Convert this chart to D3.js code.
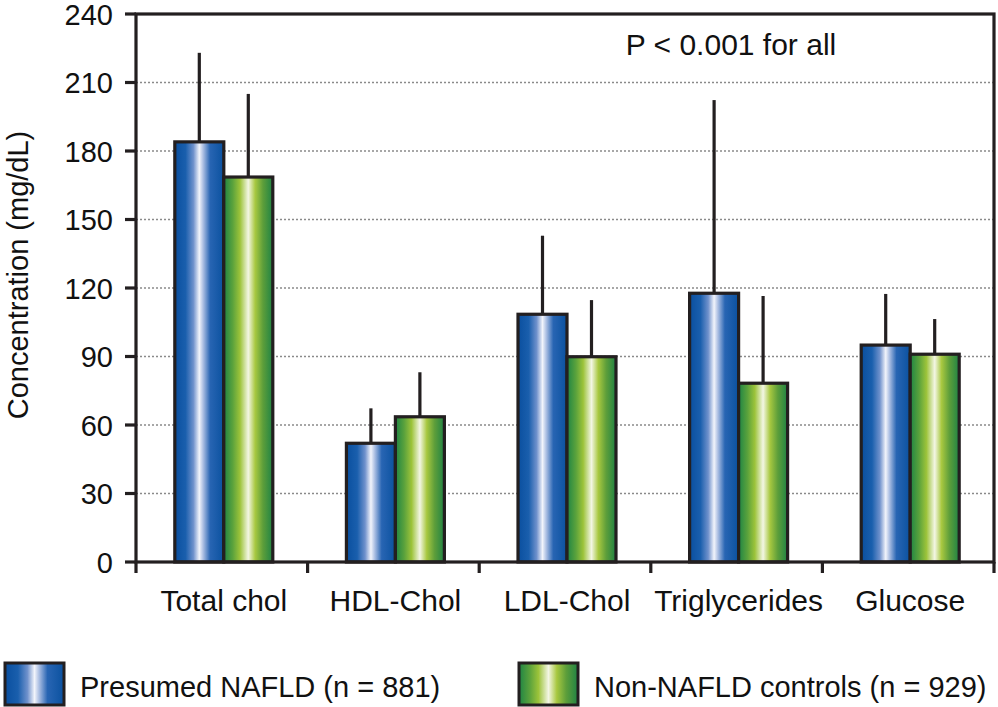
<!DOCTYPE html>
<html>
<head>
<meta charset="utf-8">
<script src="https://cdn.jsdelivr.net/npm/d3@7"></script>
<style>
  body { margin: 0; background: #fff; }
  text { font-family: "Liberation Sans", Arial, sans-serif; fill: #111; }
</style>
</head>
<body>
<svg id="chart" width="998" height="707"></svg>
<script>
var categories = ["Total chol", "HDL-Chol", "LDL-Chol", "Triglycerides", "Glucose"];
var series = ["Presumed NAFLD (n = 881)", "Non-NAFLD controls (n = 929)"];
var nafldMean = [184, 52, 108.5, 117.7, 95];
var nafldSD   = [39, 15.3, 34.4, 84.6, 22.4];
var ctrlMean  = [168.6, 63.6, 89.9, 78.3, 91];
var ctrlSD    = [36.4, 19.5, 24.8, 38.2, 15.4];
var yTicks = [0, 30, 60, 90, 120, 150, 180, 210, 240];

var svg = d3.select("#chart");
var pLeft = 136, pRight = 994, pTop = 14, pBottom = 562;
var axisColor = "#231f20";

var x = d3.scaleBand().domain(categories).range([pLeft, pRight]).padding(0);
var y = d3.scaleLinear().domain([0, 240]).range([pBottom, pTop]);
var bw = x.bandwidth();
var pairW = bw * 0.571;
var inner = d3.scaleBand().domain([0, 1])
  .range([(bw - pairW) / 2 + 2, (bw + pairW) / 2 + 2]).padding(0);

// gradients
var defs = svg.append("defs");
function grad(id, stops) {
  var g = defs.append("linearGradient").attr("id", id)
    .attr("x1", "0%").attr("x2", "100%").attr("y1", "0%").attr("y2", "0%");
  stops.forEach(function(s) {
    g.append("stop").attr("offset", s[0]).attr("stop-color", s[1]);
  });
}
grad("gBlue", [["0%", "#0a4f9f"], ["22%", "#1a5fad"], ["38%", "#6f91cc"],
  ["50%", "#f2f4fb"], ["58%", "#a9bde2"], ["72%", "#2865b3"], ["100%", "#0a519f"]]);
grad("gGreen", [["0%", "#1e8444"], ["18%", "#5aa23c"], ["33%", "#9cc33a"],
  ["50%", "#f3f6e4"], ["64%", "#a8c840"], ["80%", "#5d9e3a"], ["100%", "#1f8344"]]);
var fills = ["url(#gBlue)", "url(#gGreen)"];

// gridlines
svg.append("g").selectAll("line")
  .data(yTicks.filter(function(d) { return d > 0 && d < 240; }))
  .enter().append("line")
  .attr("x1", pLeft).attr("x2", pRight)
  .attr("y1", function(d) { return y(d); })
  .attr("y2", function(d) { return y(d); })
  .style("stroke", "#8a8a8a")
  .style("stroke-width", 1.6)
  .style("stroke-dasharray", "2,2");

// bars + error bars
var rows = categories.map(function(c, i) {
  return [{cat: c, s: 0, v: nafldMean[i], e: nafldSD[i]},
          {cat: c, s: 1, v: ctrlMean[i], e: ctrlSD[i]}];
});
var grp = svg.append("g").selectAll("g")
  .data(rows).enter().append("g")
  .attr("transform", function(d) { return "translate(" + x(d[0].cat) + ",0)"; });

grp.selectAll("line.err")
  .data(function(d) { return d; })
  .enter().append("line")
  .attr("class", "err")
  .attr("x1", function(d) { return inner(d.s) + inner.bandwidth() / 2; })
  .attr("x2", function(d) { return inner(d.s) + inner.bandwidth() / 2; })
  .attr("y1", function(d) { return y(d.v); })
  .attr("y2", function(d) { return y(d.v + d.e); })
  .style("stroke", axisColor)
  .style("stroke-width", 3.2);

grp.selectAll("rect")
  .data(function(d) { return d; })
  .enter().append("rect")
  .attr("x", function(d) { return inner(d.s); })
  .attr("width", inner.bandwidth())
  .attr("y", function(d) { return y(d.v); })
  .attr("height", function(d) { return y(0) - y(d.v); })
  .style("fill", function(d) { return fills[d.s]; })
  .style("stroke", axisColor)
  .style("stroke-width", 3.2);

// axis frame
svg.append("rect")
  .attr("x", pLeft).attr("y", pTop)
  .attr("width", pRight - pLeft).attr("height", pBottom - pTop)
  .style("fill", "none")
  .style("stroke", axisColor)
  .style("stroke-width", 3.2);

// y ticks + labels
var yAxis = svg.append("g");
yAxis.selectAll("line").data(yTicks).enter().append("line")
  .attr("x1", pLeft - 11).attr("x2", pLeft)
  .attr("y1", function(d) { return y(d); })
  .attr("y2", function(d) { return y(d); })
  .style("stroke", axisColor).style("stroke-width", 3.2);
yAxis.selectAll("text").data(yTicks).enter().append("text")
  .attr("x", 113)
  .attr("y", function(d) { return y(d) + 10.5; })
  .style("text-anchor", "end")
  .style("font-size", "29px")
  .text(function(d) { return d; });

// x ticks at band edges + labels
var edges = categories.map(function(c) { return x(c); }).concat([pRight]);
svg.append("g").selectAll("line").data(edges).enter().append("line")
  .attr("x1", function(d) { return d; }).attr("x2", function(d) { return d; })
  .attr("y1", pBottom).attr("y2", pBottom + 11)
  .style("stroke", axisColor).style("stroke-width", 3.2);
svg.append("g").selectAll("text").data(categories).enter().append("text")
  .attr("x", function(d) { return x(d) + bw / 2 + 2; })
  .attr("y", 611)
  .style("text-anchor", "middle")
  .style("font-size", "30px")
  .text(function(d) { return d; });

// y title
svg.append("text")
  .attr("transform", "translate(28,275) rotate(-90)")
  .style("text-anchor", "middle")
  .style("font-size", "29px")
  .text("Concentration (mg/dL)");

// annotation
svg.append("text")
  .attr("x", 731).attr("y", 55)
  .style("text-anchor", "middle")
  .style("font-size", "30px")
  .text("P < 0.001 for all");

// legend
var legX = [5, 519];
var leg = svg.append("g").selectAll("g").data(series).enter().append("g")
  .attr("transform", function(d, i) { return "translate(" + legX[i] + ",663)"; });
leg.append("rect")
  .attr("x", 0).attr("y", 0).attr("width", 59).attr("height", 42)
  .style("fill", function(d, i) { return fills[i]; })
  .style("stroke", axisColor).style("stroke-width", 3);
leg.append("text")
  .attr("x", 75).attr("y", 34)
  .style("font-size", "29px")
  .text(function(d) { return d; });
</script>
</body>
</html>
